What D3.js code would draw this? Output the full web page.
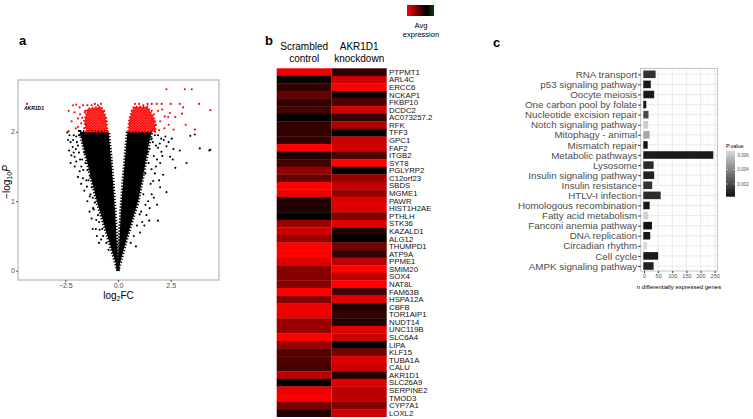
<!DOCTYPE html>
<html>
<head>
<meta charset="utf-8">
<script src="https://cdn.jsdelivr.net/npm/d3@7"></script>
<style>
  body { margin: 0; background: #fff; }
  svg { font-family: "Liberation Sans", Arial, sans-serif; }
</style>
</head>
<body>
<svg id="fig" width="753" height="419"></svg>
<script>
// ---- panel a: volcano ----
// dense cloud outlines, [log2FC, -log10P]
var coreLeft = [[0,0],[-0.25,0.25],[-0.5,0.5],[-0.75,0.75],[-1.0,1.0],[-1.25,1.3],[-1.45,1.55],[-1.65,1.8],[-1.8,2.0],
  [-0.45,2.0],[-0.33,1.6],[-0.22,1.2],[-0.13,0.8],[-0.06,0.4],[-0.02,0.15]];
var coreRight = [[0,0],[0.02,0.15],[0.06,0.4],[0.13,0.8],[0.22,1.2],[0.33,1.6],[0.45,2.0],[1.6,2.0],
  [1.45,1.8],[1.3,1.55],[1.15,1.3],[0.95,1.0],[0.7,0.75],[0.45,0.5],[0.22,0.25]];
var redLeft = [[-1.5,2.0],[-1.6,2.15],[-1.45,2.33],[-0.8,2.36],[-0.58,2.22],[-0.5,2.0]];
var redRight = [[0.48,2.0],[0.55,2.2],[0.75,2.36],[1.4,2.36],[1.7,2.2],[1.8,2.0]];
// sparse points outside the dense cloud
var blackPoints = [[-2.37,1.88],[-2.3,1.95],[-2.32,1.73],[-2.21,1.66],[-2.06,1.64],[-1.98,1.57],[-1.74,1.5],[-1.82,1.43],
  [-1.66,1.33],[-1.47,1.21],[-1.34,1.07],[-1.18,0.9],[-1.03,0.73],[-0.87,0.59],[-2.13,1.88],[-1.98,1.93],[-1.5,1.88],
  [-1.31,1.36],[-1.15,0.88],[-2.15,1.78],[-1.9,1.8],[-1.75,1.95],[-1.6,1.7],[-1.7,1.6],[-1.55,1.55],[-1.45,1.45],
  [-1.4,1.3],[-1.25,1.2],[-1.2,1.05],[-1.1,0.98],[-0.95,0.8],[-0.9,0.7],[-0.75,0.6],[-0.7,0.5],[-0.55,0.4],[-0.45,0.3],
  [-1.85,1.7],[-1.65,1.85],[-2.0,1.75],[-1.55,1.98],[-0.8,0.45],[-1.05,0.6],
  [-2.4,1.99],[-2.25,1.85],[-2.1,1.95],[-1.95,1.85],[-1.85,1.95],[-2.05,1.5],[-1.9,1.35],[-1.75,1.25],[-1.6,1.15],
  [-1.45,1.0],[-1.35,0.85],[-1.25,0.75],[-1.2,0.6],[-1.0,0.5],[-0.9,0.4],[-2.25,1.55],[-2.1,1.7],[-1.8,1.6],
  [-1.65,1.45],[-1.5,1.3],[-1.3,1.1],
  [3.43,1.94],[3.64,1.96],[3.88,1.76],[4.33,1.73],[4.38,1.74],[2.93,1.73],[2.63,1.75],[2.47,1.64],[3.25,1.55],[2.72,1.48],
  [2.14,1.38],[2.3,1.13],[1.48,0.72],[1.9,0.72],[2.25,1.93],[2.17,1.88],[1.98,1.83],[1.9,1.77],[2.06,1.71],[2.3,1.79],
  [1.59,1.46],[1.67,1.29],[1.43,1.0],[1.03,0.81],[1.6,1.9],[1.75,1.95],[1.5,1.75],[1.7,1.65],[1.45,1.55],[1.3,1.4],
  [1.55,1.25],[1.2,1.1],[1.3,0.95],[1.1,0.85],[0.9,0.65],[0.75,0.5],[0.6,0.4],[1.8,1.5],[1.4,1.7],[1.85,1.6],[2.0,1.55],[1.15,0.7],
  [1.55,1.98],[1.65,1.85],[1.8,1.8],[1.9,1.95],[2.05,1.9],[1.75,1.4],[1.6,1.1],[1.5,0.9],[1.35,0.8],[1.25,0.65],
  [1.05,0.55],[0.85,0.35],[2.1,1.65],[1.95,1.3],[1.7,1.05],[2.55,1.9],[2.4,1.85],[2.6,1.6],[1.85,0.95],[2.0,1.2]];
var redPoints = [[-4.32,2.40],[-2.34,2.30],[-2.34,2.01],[-2.13,2.38],[-1.98,2.39],[-2.06,2.28],[-1.82,2.35],[-1.66,2.38],
  [-1.9,2.19],[-1.74,2.12],[-1.9,2.07],[-1.58,2.28],[-1.7,2.2],[-2.2,2.15],[-1.6,2.05],[-1.1,2.4],[-0.8,2.4],
  [-1.45,2.38],[-1.25,2.38],[-0.95,2.38],[-0.65,2.3],[-0.55,2.15],[-1.55,2.3],[-1.5,2.1],[-2.0,2.05],[-1.8,2.25],
  [2.3,2.61],[3.17,2.61],[3.5,2.61],[3.85,2.4],[4.38,2.31],[2.93,2.4],[3.09,2.35],[3.04,2.26],[2.72,2.21],[3.21,2.1],
  [2.64,2.03],[3.65,2.03],[2.07,2.4],[1.84,2.4],[2.46,2.27],[2.22,2.22],[2.38,2.21],[1.9,2.3],[2.0,2.15],[1.8,2.1],
  [2.2,2.05],[2.5,2.4],[1.6,2.4],[1.7,2.25],[2.1,2.32],[1.95,2.02],[2.4,2.1],[1.0,2.4],[1.4,2.4],[0.8,2.4],
  [0.65,2.3],[1.2,2.38],[1.6,2.3],[1.75,2.15],[1.7,2.02],[0.55,2.12]];
var labelGene = {name: "AKR1D1", fc: -4.32, p: 2.40};

// ---- panel b: heatmap ----
var genes = ["PTPMT1","ARL4C","ERCC6","NCKAP1","FKBP10","DCDC2","AC073257.2","RFK","TFF3","GPC1","FAF2","ITGB2",
  "SYT8","PGLYRP2","C12orf23","SBDS","MGME1","PAWR","HIST1H2AE","PTHLH","STK36","KAZALD1","ALG12","THUMPD1",
  "ATP9A","PPME1","SMIM20","SOX4","NAT8L","FAM63B","HSPA12A","CBFB","TOR1AIP1","NUDT14","UNC119B","SLC6A4",
  "LIPA","KLF15","TUBA1A","CALU","AKR1D1","SLC26A9","SERPINE2","TMOD3","CYP7A1","LOXL2"];
var conditions = ["Scrambled control", "AKR1D1 knockdown"];
var scrambled = [0.93,0.05,0.2,0.4,0.2,0.27,0.02,0.2,0.2,0.2,1.0,0.13,0.27,0.6,0.4,1.0,0.93,0.13,0.13,0.02,0.6,0.8,0.6,
  1.0,1.0,0.87,0.53,0.53,0.53,1.0,0.53,0.93,0.93,0.6,0.6,1.0,0.6,0.33,0.33,0.27,0.73,0.02,0.93,1.0,0.47,0.13];
var knockdown = [0.2,0.8,1.0,0.07,0.33,0.8,0.2,0.67,0.02,0.8,0.8,0.33,1.0,0.02,0.6,0.73,0.6,0.87,0.87,0.53,0.87,0.13,
  0.02,0.47,0.2,0.73,1.0,0.73,1.0,0.27,0.87,0.13,0.2,0.13,0.87,0.8,0.02,0.47,0.87,0.8,0.13,0.87,0.73,0.73,0.53,0.8];

// ---- panel c: KEGG bars ----
var pathways = ["RNA transport","p53 signaling pathway","Oocyte meiosis","One carbon pool by folate",
  "Nucleotide excision repair","Notch signaling pathway","Mitophagy - animal","Mismatch repair","Metabolic pathways",
  "Lysosome","Insulin signaling pathway","Insulin resistance","HTLV-I infection","Homologous recombination",
  "Fatty acid metabolism","Fanconi anemia pathway","DNA replication","Circadian rhythm","Cell cycle","AMPK signaling pathway"];
var geneCounts = [41,24,36,8,16,15,20,13,245,34,36,29,59,20,15,28,22,11,50,34];
var pValues = [0.0013,0.0005,0.0005,0.0004,0.002,0.0062,0.005,0.0004,0.0006,0.001,0.0008,0.0013,0.0011,0.0004,
  0.0063,0.0003,0.0005,0.0066,0.0005,0.0008];
var countTicks = [0,50,100,150,200,250];
var pTicks = [0.002,0.004,0.006];

var svg = d3.select("#fig");
var defs = svg.append("defs");

// panel letters
svg.selectAll(".letter")
  .data([["a",19,45],["b",265,45],["c",493,47]])
  .enter().append("text")
  .attr("x", function(d){ return d[1]; })
  .attr("y", function(d){ return d[2]; })
  .style("font-size", "13px").style("font-weight", "bold")
  .text(function(d){ return d[0]; });

// ================= panel a =================
var ax = d3.scaleLinear().domain([-2.5, 2.5]).range([65.3, 170.7]);
var ay = d3.scaleLinear().domain([0, 2]).range([270.7, 131.7]);
var aBox = {x0: 18, x1: 219, y0: 80, y1: 280};
var gA = svg.append("g");

defs.append("clipPath").attr("id", "clipA")
  .append("rect").attr("x", aBox.x0).attr("y", aBox.y0)
  .attr("width", aBox.x1 - aBox.x0).attr("height", aBox.y1 - aBox.y0);

// staggered dot texture for the red (significant) clusters
var dots = defs.append("pattern").attr("id", "redDots")
  .attr("patternUnits", "userSpaceOnUse").attr("width", 3).attr("height", 2.6);
dots.selectAll("circle").data([[0.75,0.65],[2.25,1.95],[2.25,-0.65],[0.75,3.25],[-0.75,1.95],[3.75,0.65]])
  .enter().append("circle")
  .attr("cx", function(d){ return d[0]; }).attr("cy", function(d){ return d[1]; })
  .attr("r", 1.15).attr("fill", "#f00");

var cloud = gA.append("g").attr("clip-path", "url(#clipA)");
var outline = d3.line()
  .x(function(d){ return ax(d[0]); })
  .y(function(d){ return ay(d[1]); })
  .curve(d3.curveLinearClosed);

[coreLeft, coreRight].forEach(function(poly){
  cloud.append("path").attr("d", outline(poly))
    .attr("fill", "#000").attr("stroke", "#000")
    .attr("stroke-width", 3.4).attr("stroke-dasharray", "1.3,1.7");
});
cloud.selectAll(".bp").data(blackPoints).enter().append("circle")
  .attr("cx", function(d){ return ax(d[0]); })
  .attr("cy", function(d){ return ay(d[1]); })
  .attr("r", 1.05).attr("fill", "#000");
[redLeft, redRight].forEach(function(poly){
  cloud.append("path").attr("d", outline(poly))
    .attr("fill", "url(#redDots)").attr("stroke", "#f00")
    .attr("stroke-width", 2.4).attr("stroke-dasharray", "1.3,2.2");
});
cloud.selectAll(".rp").data(redPoints).enter().append("circle")
  .attr("cx", function(d){ return ax(d[0]); })
  .attr("cy", function(d){ return ay(d[1]); })
  .attr("r", 1.05).attr("fill", "#f00");

gA.append("text")
  .attr("x", ax(labelGene.fc) - 3).attr("y", ay(labelGene.p) + 6)
  .style("font-size", "5px").style("font-style", "italic").style("font-weight", "bold")
  .text(labelGene.name);

gA.append("rect").attr("x", aBox.x0).attr("y", aBox.y0)
  .attr("width", aBox.x1 - aBox.x0).attr("height", aBox.y1 - aBox.y0)
  .attr("fill", "none").attr("stroke", "#a8a8a8").attr("stroke-width", 1);

var xAxisA = gA.append("g").attr("transform", "translate(0," + aBox.y1 + ")")
  .call(d3.axisBottom(ax).tickValues([-2.5, 0, 2.5]).tickSize(2).tickPadding(1).tickFormat(d3.format(".1f")));
var yAxisA = gA.append("g").attr("transform", "translate(" + aBox.x0 + ",0)")
  .call(d3.axisLeft(ay).tickValues([0, 1, 2]).tickSize(2).tickFormat(d3.format("d")));
[xAxisA, yAxisA].forEach(function(a){
  a.select(".domain").remove();
  a.selectAll("line").attr("stroke", "#555");
  a.selectAll("text").attr("fill", "#4d4d4d").style("font-size", "7px").style("font-family", "Liberation Sans, Arial, sans-serif");
});
yAxisA.selectAll("text").attr("x", -3);

gA.append("text").attr("x", (aBox.x0 + aBox.x1) / 2).attr("y", 298.5)
  .attr("text-anchor", "middle").style("font-size", "10px")
  .html('log<tspan dy="2" style="font-size:7px">2</tspan><tspan dy="-2">FC</tspan>');
gA.append("text").attr("transform", "translate(10,182) rotate(-90)")
  .attr("text-anchor", "middle").style("font-size", "10px")
  .html('\u2212log<tspan dy="2" style="font-size:7px">10</tspan><tspan dy="-2" font-style="italic">P</tspan>');

// ================= panel b =================
var hx = d3.scaleBand().domain(conditions).range([276.7, 386.7]);
var hy = d3.scaleBand().domain(genes).range([68.3, 416.7]);
var heatColor = d3.scaleLinear().domain([0, 1]).range(["#000000", "#ff0000"]);
var gB = svg.append("g");

var cells = [];
genes.forEach(function(g, i){
  cells.push({gene: g, cond: conditions[0], v: scrambled[i]});
  cells.push({gene: g, cond: conditions[1], v: knockdown[i]});
});
gB.selectAll(".cell").data(cells).enter().append("rect")
  .attr("x", function(d){ return hx(d.cond); })
  .attr("y", function(d){ return hy(d.gene); })
  .attr("width", hx.bandwidth())
  .attr("height", hy.bandwidth() + 0.3)
  .attr("fill", function(d){ return heatColor(d.v); });

gB.selectAll(".gene").data(genes).enter().append("text")
  .attr("x", 389)
  .attr("y", function(d){ return hy(d) + hy.bandwidth() / 2 + 2.8; })
  .style("font-size", "7.8px").attr("fill", "#111")
  .text(function(d){ return d; });

conditions.forEach(function(c){
  var words = c.split(/ (.+)/);
  var t = gB.append("text").attr("text-anchor", "middle").style("font-size", "10px");
  t.append("tspan").attr("x", hx(c) + hx.bandwidth() / 2).attr("y", 50).text(words[0]);
  t.append("tspan").attr("x", hx(c) + hx.bandwidth() / 2).attr("y", 62).text(words[1]);
});

var grad = defs.append("linearGradient").attr("id", "avgGrad");
grad.selectAll("stop").data([["0%","#ff0000"],["72%","#000000"],["100%","#0b3d0b"]]).enter().append("stop")
  .attr("offset", function(d){ return d[0]; }).attr("stop-color", function(d){ return d[1]; });
gB.append("rect").attr("x", 407).attr("y", 5).attr("width", 27).attr("height", 11).attr("fill", "url(#avgGrad)");
gB.append("text").attr("x", 421).attr("y", 28).attr("text-anchor", "middle").style("font-size", "7.5px").text("Avg");
gB.append("text").attr("x", 421).attr("y", 37).attr("text-anchor", "middle").style("font-size", "7.5px").text("expression");

// ================= panel c =================
var cBox = {x0: 640.7, x1: 717.3, y0: 68.3, y1: 271};
var cx = d3.scaleLinear().domain([0, 250]).range([644, 714.7]);
var cy = d3.scalePoint().domain(pathways).range([74.3, 266]);
var pColor = d3.scaleLinear().domain([0.00025, 0.0066]).range(["#111111", "#d9d9d9"]);
var gC = svg.append("g");

gC.selectAll(".vminor").data([25,75,125,175,225]).enter().append("line")
  .attr("x1", function(d){ return cx(d); }).attr("x2", function(d){ return cx(d); })
  .attr("y1", cBox.y0).attr("y2", cBox.y1).attr("stroke", "#f2f2f2").attr("stroke-width", 0.5);
gC.selectAll(".vmajor").data(countTicks).enter().append("line")
  .attr("x1", function(d){ return cx(d); }).attr("x2", function(d){ return cx(d); })
  .attr("y1", cBox.y0).attr("y2", cBox.y1).attr("stroke", "#e6e6e6").attr("stroke-width", 0.8);
gC.selectAll(".hmajor").data(pathways).enter().append("line")
  .attr("x1", cBox.x0).attr("x2", cBox.x1)
  .attr("y1", function(d){ return cy(d); }).attr("y2", function(d){ return cy(d); })
  .attr("stroke", "#e6e6e6").attr("stroke-width", 0.8);

var barH = cy.step() * 0.75;
gC.selectAll(".bar").data(pathways).enter().append("rect")
  .attr("x", cx(0) - 0.7)
  .attr("y", function(d){ return cy(d) - barH / 2; })
  .attr("width", function(d, i){ return cx(geneCounts[i]) - cx(0) + 0.7; })
  .attr("height", barH)
  .attr("fill", function(d, i){ return pColor(pValues[i]); });

gC.append("rect").attr("x", cBox.x0).attr("y", cBox.y0)
  .attr("width", cBox.x1 - cBox.x0).attr("height", cBox.y1 - cBox.y0)
  .attr("fill", "none").attr("stroke", "#b3b3b3").attr("stroke-width", 0.8);

var yAxisC = gC.append("g").attr("transform", "translate(" + cBox.x0 + ",0)")
  .call(d3.axisLeft(cy).tickSize(2.5).tickPadding(1));
yAxisC.select(".domain").remove();
yAxisC.selectAll("line").attr("stroke", "#333");
yAxisC.selectAll("text").attr("fill", "#4d4d4d").style("font-size", "9.8px")
  .style("font-family", "Liberation Sans, Arial, sans-serif");

var xAxisC = gC.append("g").attr("transform", "translate(0," + cBox.y1 + ")")
  .call(d3.axisBottom(cx).tickValues(countTicks).tickSize(2).tickPadding(1.5));
xAxisC.select(".domain").remove();
xAxisC.selectAll("line").attr("stroke", "#333");
xAxisC.selectAll("text").attr("fill", "#4d4d4d").style("font-size", "5.5px")
  .style("font-family", "Liberation Sans, Arial, sans-serif");

gC.append("text").attr("x", (cBox.x0 + cBox.x1) / 2).attr("y", 289)
  .attr("text-anchor", "middle").style("font-size", "6px").text("n differentially expressed genes");

// P.value colour bar
var pLeg = d3.scaleLinear().domain([0.00025, 0.0066]).range([196.7, 150.7]);
var pGrad = defs.append("linearGradient").attr("id", "pGrad")
  .attr("x1", 0).attr("y1", 1).attr("x2", 0).attr("y2", 0);
pGrad.selectAll("stop").data([0, 1]).enter().append("stop")
  .attr("offset", function(d){ return (d * 100) + "%"; })
  .attr("stop-color", function(d){ return pColor(pLeg.domain()[d]); });
gC.append("text").attr("x", 726).attr("y", 148).style("font-size", "5.5px").text("P.value");
gC.append("rect").attr("x", 726).attr("y", 150.7).attr("width", 9).attr("height", 46).attr("fill", "url(#pGrad)");
gC.selectAll(".ptick").data(pTicks).enter().append("line")
  .attr("x1", 726).attr("x2", 728).attr("y1", function(d){ return pLeg(d); }).attr("y2", function(d){ return pLeg(d); })
  .attr("stroke", "#fff").attr("stroke-width", 0.5);
gC.selectAll(".ptick2").data(pTicks).enter().append("line")
  .attr("x1", 733).attr("x2", 735).attr("y1", function(d){ return pLeg(d); }).attr("y2", function(d){ return pLeg(d); })
  .attr("stroke", "#fff").attr("stroke-width", 0.5);
gC.selectAll(".plab").data(pTicks).enter().append("text")
  .attr("x", 737.5).attr("y", function(d){ return pLeg(d) + 1.5; })
  .style("font-size", "4.5px").attr("fill", "#4d4d4d")
  .text(function(d){ return d3.format(".3f")(d); });
</script>
</body>
</html>
